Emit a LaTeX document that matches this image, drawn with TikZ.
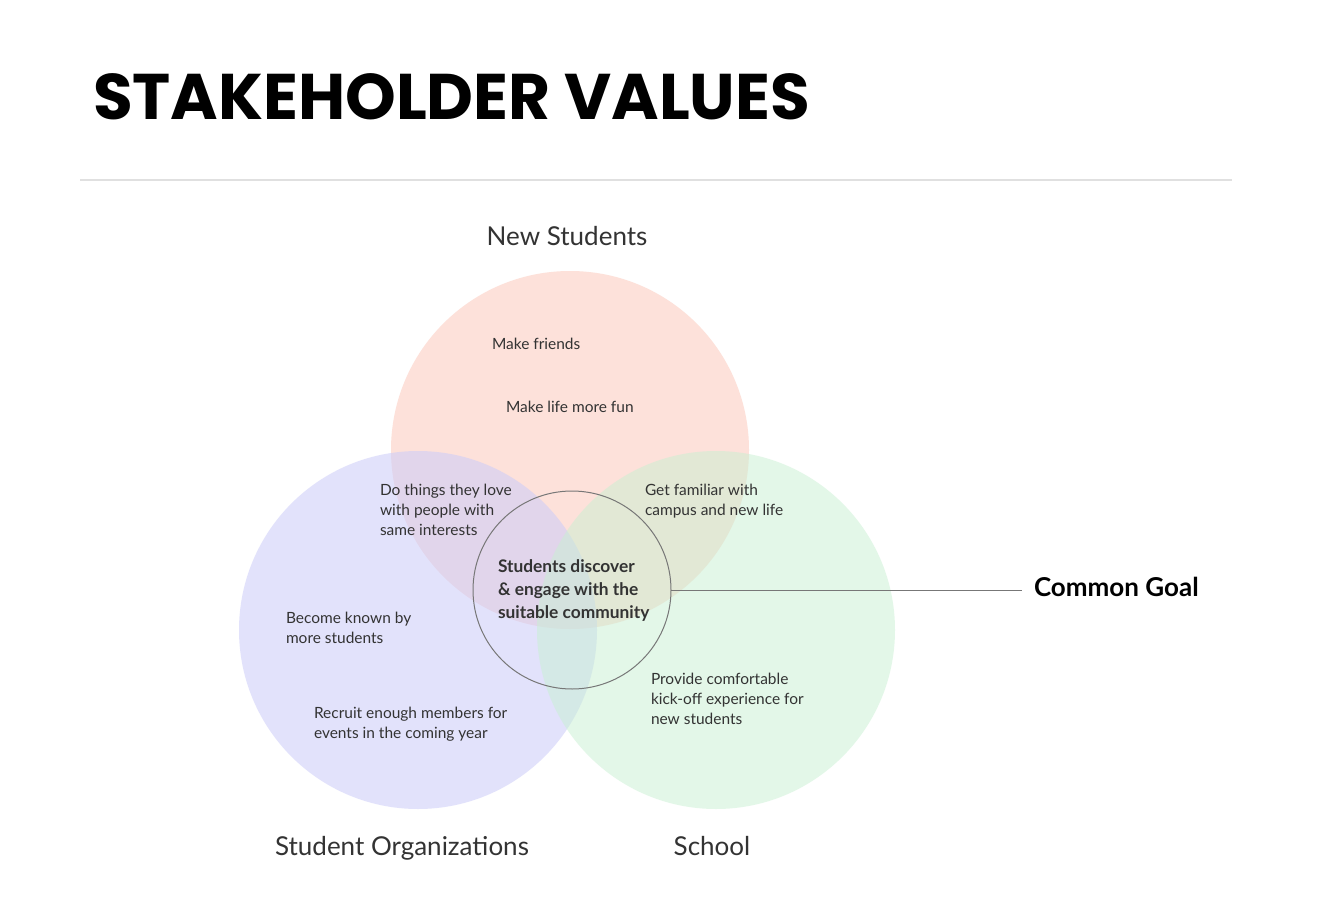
\documentclass[tikz,border=0pt]{standalone}
\usepackage{fontspec}
\setmainfont{Lato}
\newfontfamily\titlefont{Poppins}
\begin{document}
\begin{tikzpicture}[x=0.75pt,y=-0.75pt,
  every node/.style={inner sep=0pt,outer sep=0pt},
  body/.style={font=\fontsize{11.6}{15}\selectfont,text=txtgray,align=left,anchor=base west},
  grouplabel/.style={font=\fontsize{19.5}{22}\selectfont,text=txtgray,anchor=base},
  venn/.style={circle,minimum size=268.5pt,draw=none}]
\definecolor{txtgray}{HTML}{333333}
\definecolor{pinkset}{RGB}{253,225,218}
\definecolor{lavset}{RGB}{205,205,249}
\definecolor{greenset}{RGB}{200,240,210}
\definecolor{rulegray}{HTML}{E0E0E0}
\definecolor{ringgray}{HTML}{777777}
\useasboundingbox[fill=white] (0,0) rectangle (1324,920);

% heading and rule
\node[anchor=base west,font=\titlefont\bfseries\fontsize{48.4}{52}\selectfont] (title) at (93,120) {STAKEHOLDER VALUES};
\coordinate (ruleL) at (80,180);
\coordinate (ruleR) at (1232,180);
\draw[rulegray,line width=1.5pt] (ruleL) -- (ruleR);

% three stakeholder sets
\node[venn,fill=pinkset] (newst) at (570,450) {};
\node[venn,fill=lavset,fill opacity=0.57] (orgs) at (418,630) {};
\node[venn,fill=greenset,fill opacity=0.5] (school) at (716,630) {};

% common goal ring
\node[circle,minimum size=148.5pt,draw=ringgray,line width=0.75pt] (goal) at (572,590) {};

% set names
\node[grouplabel] (lblnew) at (567,245) {New Students};
\node[grouplabel] (lblorg) at (402,855) {Student Organizations};
\node[grouplabel] (lblschool) at (712,855) {School};

% values (anchored at the baseline of the last line)
\node[body] (friends) at (492,349) {Make friends};
\node[body] (fun) at (506,412) {Make life more fun};
\node[body] (things) at (380,535) {Do things they love\\with people with\\same interests};
\node[body] (familiar) at (645,515) {Get familiar with\\campus and new life};
\node[body] (known) at (286,643) {Become known by\\more students};
\node[body] (recruit) at (314,738) {Recruit enough members for\\events in the coming year};
\node[body] (provide) at (651,724) {Provide comfortable\\kick-off experience for\\new students};
\node[body,font=\bfseries\fontsize{13}{17.25}\selectfont] (center) at (498,618) {Students discover\\\& engage with the\\suitable community};

% pointer to the label
\node[anchor=base west,font=\bfseries\fontsize{19.5}{22}\selectfont,text=black] (cg) at (1034,596) {Common Goal};
\coordinate (cgend) at (1022,590);
\draw[ringgray,line width=0.6pt] (goal.east) -- (cgend);
\end{tikzpicture}
\end{document}
